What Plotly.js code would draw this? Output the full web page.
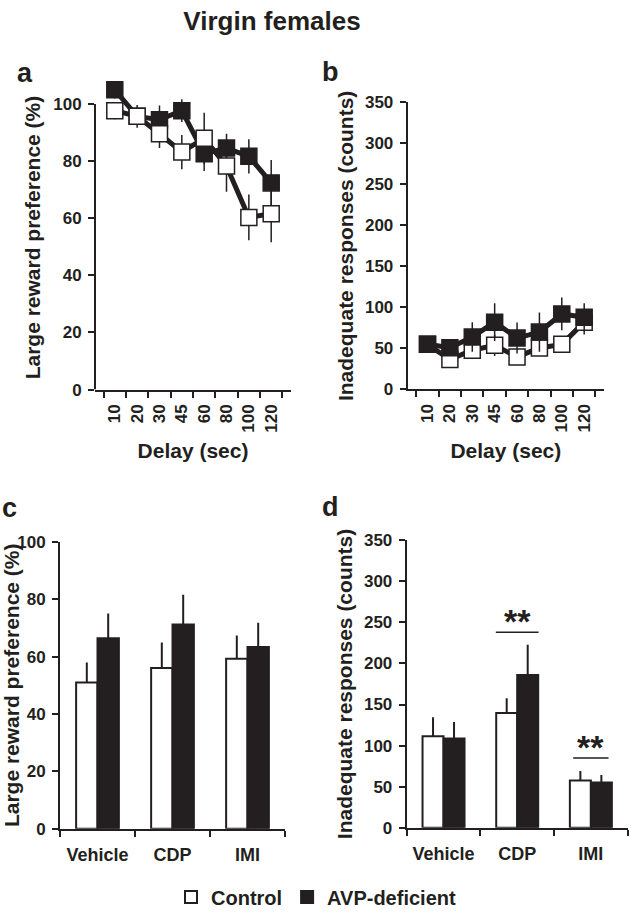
<!DOCTYPE html>
<html>
<head>
<meta charset="utf-8">
<script src="https://cdn.plot.ly/plotly-3.0.1.min.js"></script>
<style>html,body{margin:0;padding:0;background:#fff;}#chart{width:632px;height:917px;}</style>
</head>
<body>
<div id="chart"></div>
<script>
// ---- data ----
const delays = ['10','20','30','45','60','80','100','120'];
const prefControl    = [97.7, 95.7, 89.6, 83.2, 88.0, 78.3, 60.3, 61.6];
const prefControlErr = [3, 4, 5, 6, 9, 9, 8, 10];
const prefAvp        = [105, 95.7, 94.5, 97.7, 82.6, 84.6, 81.7, 72.4];
const prefAvpErr     = [3, 3, 5, 4, 6, 5, 6, 8];
const inadControl    = [54.8, 36.3, 47.6, 53.6, 39.5, 50.4, 54.8, 81.9];
const inadControlErr = [6, 6, 8, 13, 6, 8, 8, 15];
const inadAvp        = [55, 50.8, 63.7, 81.9, 62.5, 69.8, 91.9, 87.9];
const inadAvpErr     = [5, 8, 18, 23, 19, 24, 20, 17];

const drugs = ['Vehicle','CDP','IMI'];
const drugPrefControl    = [51.0, 56.0, 59.3];
const drugPrefControlErr = [7, 8.9, 8.1];
const drugPrefAvp        = [66.4, 71.2, 63.4];
const drugPrefAvpErr     = [8.6, 10.4, 8.4];
const drugInadControl    = [111.4, 139.6, 57.5];
const drugInadControlErr = [23, 18, 11.5];
const drugInadAvp        = [108.6, 185.8, 55.1];
const drugInadAvpErr     = [20, 37, 9];

const sigDrugs = ['CDP','IMI'];
const sigY = [238, 85];
const sigLabels = ['**','**'];

const groupNames = ['Control','AVP-deficient'];

// ---- style ----
const INK = '#231f20';
const FONT = 'Liberation Sans, Arial, sans-serif';
const zeros = n => new Array(n).fill(0);

function lineTrace(y, err, name, filled, xa, ya){
  return {
    type:'scatter', mode:'lines+markers', x: delays, y: y, name: name,
    xaxis: xa, yaxis: ya, showlegend:false, cliponaxis:false,
    line:{color:INK, width:5},
    marker:{symbol:'square', size:16, color: filled ? INK : '#ffffff', line:{color:INK, width:1.5}},
    error_y:{type:'data', array: err, visible:true, width:0, thickness:1.5, color:INK}
  };
}
function barTrace(y, err, name, filled, xa, ya, legend){
  return {
    type:'bar', x: drugs, y: y, name: name, xaxis: xa, yaxis: ya,
    showlegend: legend, cliponaxis:false,
    marker:{color: filled ? INK : '#ffffff', line:{color:INK, width:2}},
    error_y:{type:'data', symmetric:false, array: err, arrayminus: zeros(err.length), visible:true, width:0, thickness:2, color:INK}
  };
}

const data = [
  lineTrace(prefAvp, prefAvpErr, groupNames[1], true, 'x', 'y'),
  lineTrace(prefControl, prefControlErr, groupNames[0], false, 'x', 'y'),
  lineTrace(inadControl, inadControlErr, groupNames[0], false, 'x2', 'y2'),
  lineTrace(inadAvp, inadAvpErr, groupNames[1], true, 'x2', 'y2'),
  barTrace(drugPrefControl, drugPrefControlErr, groupNames[0], false, 'x3', 'y3', true),
  barTrace(drugPrefAvp, drugPrefAvpErr, groupNames[1], true, 'x3', 'y3', true),
  barTrace(drugInadControl, drugInadControlErr, groupNames[0], false, 'x4', 'y4', false),
  barTrace(drugInadAvp, drugInadAvpErr, groupNames[1], true, 'x4', 'y4', false)
];

const W = 632, H = 917;
const px = v => v / W;
const py = v => 1 - v / H;

const f = (size) => ({family: FONT, size: size, color: INK, weight: 'bold'});

function xCat(dom, rotated, title){
  const ax = {
    domain: dom, type:'category', showline:true, linecolor:INK, linewidth:2,
    ticks:'outside', tickson:'boundaries', ticklen:6, tickwidth:2, tickcolor:INK,
    showgrid:false, zeroline:false, fixedrange:true,
    tickangle: rotated ? -90 : 0, tickfont: rotated ? f(17) : f(18),
    ticklabelstandoff: rotated ? 6 : 9
  };
  if (title) ax.title = {text: title, font: f(21), standoff: 12};
  return ax;
}
function yLin(dom, range, dtick, title, showline, standoff){
  return {
    domain: dom, range: range, dtick: dtick, tick0: 0,
    showline: showline, linecolor:INK, linewidth:2,
    ticks:'outside', ticklen:6, tickwidth:2, tickcolor:INK,
    showgrid:false, zeroline:false, tickfont: f(17), fixedrange:true,
    ticklabelstandoff: 3,
    title:{text: title, font: f(21), standoff: standoff}
  };
}

// panel a: 2.88 px per unit, zero at y=393; range extends above 100 so the top points stay inside it
const aTop = 106.5;

const layout = {
  width: W, height: H,
  margin:{l:0, r:0, t:0, b:0},
  paper_bgcolor:'#ffffff', plot_bgcolor:'rgba(0,0,0,0)',
  font:{family: FONT, color: INK},
  title:{text:'Virgin females', font: f(26),
         x: px(272), xanchor:'center', xref:'paper', y: py(21), yanchor:'middle', yref:'paper'},
  barmode:'group', bargap:0.43, bargroupgap:0,
  showlegend:true,
  legend:{orientation:'h', x:0.5, xanchor:'center', y: py(905), yanchor:'middle',
          font: f(20), traceorder:'normal',
          itemclick:false, itemdoubleclick:false, bgcolor:'rgba(0,0,0,0)'},
  xaxis:  xCat([px(95), px(291)], true, 'Delay (sec)'),
  yaxis:  yLin([py(393), py(393 - aTop * 2.88)], [0, aTop], 20, 'Large reward preference (%)', false, 6),
  xaxis2: Object.assign(xCat([px(407.7), px(604)], true, 'Delay (sec)'), {anchor:'y2'}),
  yaxis2: Object.assign(yLin([py(392.7), py(103.3)], [0, 350], 50, 'Inadequate responses (counts)', true, 6), {anchor:'x2'}),
  xaxis3: Object.assign(xCat([px(60), px(285)], false, null), {anchor:'y3'}),
  yaxis3: Object.assign(yLin([py(836), py(546.7)], [0, 100], 20, 'Large reward preference (%)', true, 4), {anchor:'x3'}),
  xaxis4: Object.assign(xCat([px(406.7), px(627.7)], false, null), {anchor:'y4'}),
  yaxis4: Object.assign(yLin([py(835), py(545)], [0, 350], 50, 'Inadequate responses (counts)', true, 6), {anchor:'x4'}),
  shapes: [
    // y axis line of panel a, stopping at 100
    {type:'line', xref:'x domain', x0:0, x1:0, yref:'y', y0:0, y1:100, line:{color:INK, width:2}}
  ],
  annotations: [
    {text:'a', xref:'paper', yref:'paper', x:px(25), y:py(74), xanchor:'center', yanchor:'middle', showarrow:false, font:f(27)},
    {text:'b', xref:'paper', yref:'paper', x:px(330), y:py(73), xanchor:'center', yanchor:'middle', showarrow:false, font:f(27)},
    {text:'c', xref:'paper', yref:'paper', x:0, y:py(512), xanchor:'left', yanchor:'middle', showarrow:false, font:f(27)},
    {text:'d', xref:'paper', yref:'paper', x:px(330), y:py(511), xanchor:'center', yanchor:'middle', showarrow:false, font:f(27)}
  ]
};

const sigHalf = {'CDP':0.29, 'IMI':0.24};
sigDrugs.forEach((d, i) => {
  const c = drugs.indexOf(d);
  layout.shapes.push({type:'line', xref:'x4', yref:'y4', x0: c - sigHalf[d], x1: c + sigHalf[d], y0: sigY[i], y1: sigY[i], line:{color:INK, width:1.5}});
  layout.annotations.push({text: sigLabels[i], xref:'x4', yref:'y4', x: d, y: sigY[i], yanchor:'bottom', xanchor:'center', yshift:-10, showarrow:false, font:f(34)});
});

Plotly.newPlot('chart', data, layout, {displayModeBar:false, staticPlot:true});
</script>
</body>
</html>
